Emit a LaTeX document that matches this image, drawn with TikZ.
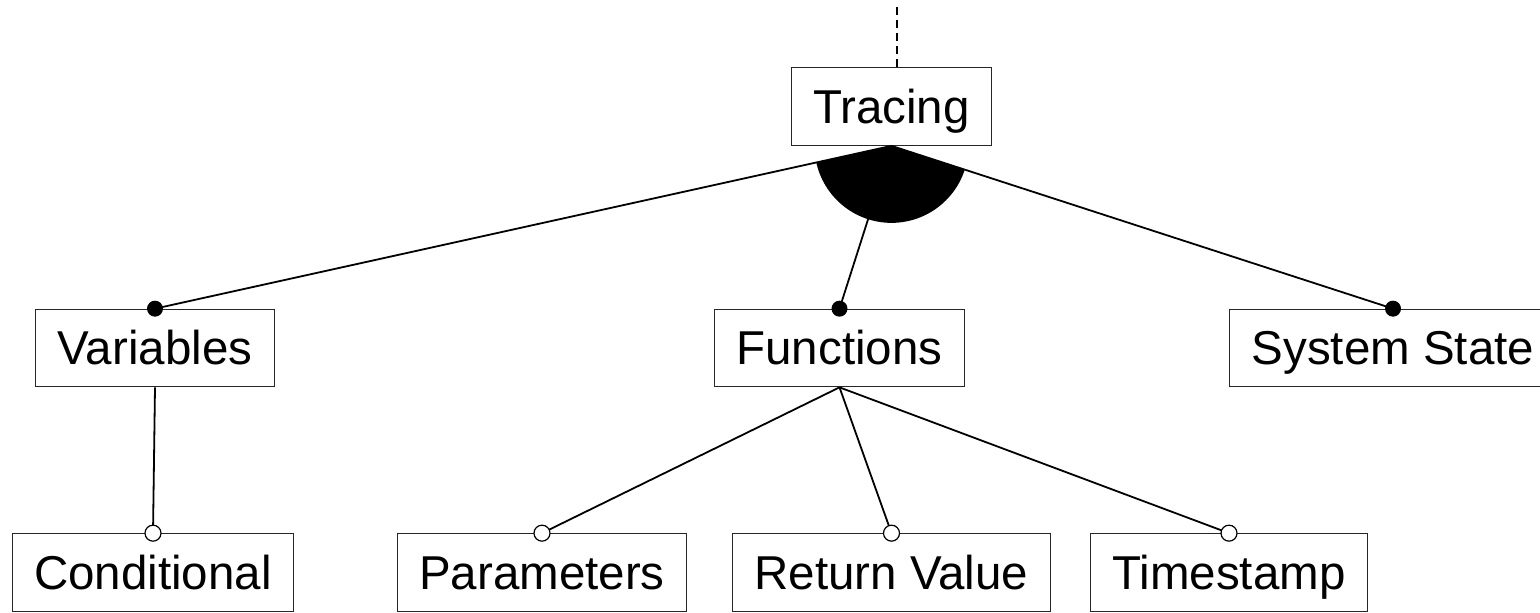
\documentclass[tikz,border=0pt]{standalone}
\usepackage{fontspec}
\setmainfont{Liberation Sans}
\def\dotradius{4pt}
\def\fanradius{38.5pt}
\tikzset{
  feature/.style={rectangle, draw=black!85, line width=0.6pt, minimum height=38.75pt, inner xsep=11pt, text height=22pt, text depth=5.5pt, font=\fontsize{23.75pt}{28pt}\selectfont},
  mandatory/.style={fill=black},
  optional/.style={draw=black, fill=white, line width=0.6pt}
  }
\tikzstyle{link} = [draw, line width=0.9pt]

\begin{document}
\begin{tikzpicture}[x=0.5pt,y=-0.5pt]
   \useasboundingbox (0,0) rectangle (1540,612);

   \node[feature] (tracing) at (891.5,106.5) {Tracing};

   \node[feature] (variables) at (155,348) {Variables};
   \node[feature] (functions) at (839.5,348) {Functions};
   \node[feature] (systemstate) at (1393,348) {System State};

   \node[feature] (conditional) at (153,572.5) {Conditional};
   \node[feature] (parameters) at (542,572.5) {Parameters};
   \node[feature] (returnvalue) at (891.5,572.5) {Return Value};
   \node[feature] (timestamp) at (1229,572.5) {Timestamp};

   % link up to the parent feature
   \coordinate (parent) at (897,7);
   \draw[line width=0.9pt, dash pattern=on 4pt off 2.5pt] (parent) -- (parent |- tracing.north);

   % or-group fan under tracing
   \begin{scope}
        \clip (tracing.south) -- (variables.north) -- (systemstate.north) -- cycle;
        \fill (tracing.south) circle (\fanradius);
   \end{scope}

   \path[link] (tracing.south) -- (variables.north);
   \path[link] (tracing.south) -- (functions.north);
   \path[link] (tracing.south) -- (systemstate.north);

   \path[link] (variables.south) -- (conditional.north);
   \path[link] (functions.south) -- (parameters.north);
   \path[link] (functions.south) -- (returnvalue.north);
   \path[link] (functions.south) -- (timestamp.north);

   \fill[mandatory] (variables.north) circle (\dotradius);
   \fill[mandatory] (functions.north) circle (\dotradius);
   \fill[mandatory] (systemstate.north) circle (\dotradius);

   \draw[optional] (conditional.north) circle (\dotradius);
   \draw[optional] (parameters.north) circle (\dotradius);
   \draw[optional] (returnvalue.north) circle (\dotradius);
   \draw[optional] (timestamp.north) circle (\dotradius);
\end{tikzpicture}
\end{document}
